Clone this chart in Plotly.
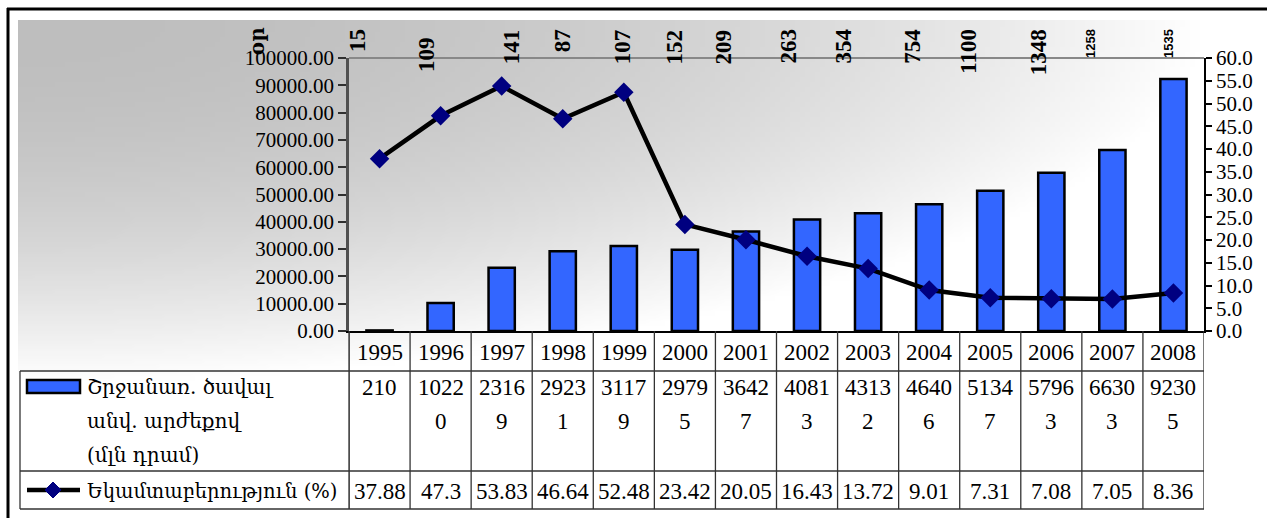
import base64
import struct
import zlib

import plotly.graph_objects as go

years = ["1995", "1996", "1997", "1998", "1999", "2000", "2001",
         "2002", "2003", "2004", "2005", "2006", "2007", "2008"]
turnover = [210, 10220, 23169, 29231, 31179, 29795, 36427,
            40813, 43132, 46406, 51347, 57963, 66303, 92305]
yield_pct = [37.88, 47.3, 53.83, 46.64, 52.48, 23.42, 20.05,
             16.43, 13.72, 9.01, 7.31, 7.08, 7.05, 8.36]
days = ["15", "109", "141", "87", "107", "152", "209",
        "263", "354", "754", "1100", "1348", "1258", "1535"]
days_title = "օր"
bar_name = ["Շրջանառ. ծավալ", "անվ. արժեքով", "(մլն դրամ)"]
line_name = "Եկամտաբերություն (%)"

# label nudges for the rotated "days" row (pixels)
day_dx = [-22, -14, 10, 0, -1, -10, -22, -19, -25, -17, -22, -12, -22, -5]
day_dy = [0, -8, 0, 0, 0, 0, 0, 0, 0, 0, 0, 0, 0, 0]
day_small = {"1258", "1535"}

W, H = 1267, 518
L, R, T, B = 349, 1204, 58, 331
SERIF = "Liberation Serif, Times New Roman, serif"
ARM = "DejaVu Serif, serif"
BLUE = "#3366FF"
NAVY = "#000080"


def px_x(x):
    return (x - L) / (R - L)


def px_y(y):
    return (B - y) / (B - T)


def gradient_png(w, h):
    # grey corner (top-left) fading to white
    rows = []
    for j in range(h):
        yy = 20 + (j + 0.5) * (H - 20) / h
        row = bytearray()
        for i in range(w):
            xx = 18 + (i + 0.5) * (W - 18) / w
            t = ((xx - 18) / 1180) ** 2 + ((yy - 20) / 360) ** 2
            row.append(int(190 + 65 * min(1.0, t)))
        rows.append(b"\x00" + bytes(row))

    def chunk(tag, data):
        out = struct.pack(">I", len(data)) + tag + data
        return out + struct.pack(">I", zlib.crc32(tag + data) & 0xFFFFFFFF)

    ihdr = struct.pack(">IIBBBBB", w, h, 8, 0, 0, 0, 0)
    png = (b"\x89PNG\r\n\x1a\n" + chunk(b"IHDR", ihdr)
           + chunk(b"IDAT", zlib.compress(b"".join(rows))) + chunk(b"IEND", b""))
    return "data:image/png;base64," + base64.b64encode(png).decode()


fig = go.Figure()
fig.add_trace(go.Bar(
    x=years, y=turnover, name=" ".join(bar_name),
    marker=dict(color=BLUE, line=dict(color="black", width=2.5)),
))
fig.add_trace(go.Scatter(
    x=years, y=yield_pct, yaxis="y2", name=line_name, mode="lines+markers",
    line=dict(color="black", width=4.5),
    marker=dict(symbol="diamond", size=15, color=NAVY),
))

tick_font = dict(family=SERIF, size=21, color="black")
fig.update_layout(
    width=W, height=H,
    margin=dict(l=L, r=W - R, t=T, b=H - B),
    paper_bgcolor="white",
    plot_bgcolor="rgba(0,0,0,0)",
    showlegend=False,
    bargap=0.57,
    xaxis=dict(type="category", range=[-0.5, 13.5], showticklabels=False,
               ticks="", showline=True, linecolor="black", linewidth=2,
               showgrid=False, zeroline=False),
    yaxis=dict(range=[0, 100000], dtick=10000, tickformat=".2f",
               ticks="outside", ticklen=8, tickwidth=1.5, tickcolor="#303030",
               showline=True, linecolor="#505050", linewidth=2.5,
               showgrid=False, zeroline=False, tickfont=tick_font),
    yaxis2=dict(overlaying="y", side="right", range=[0, 60], dtick=5,
                tickformat=".1f", ticks="outside", ticklen=6, tickwidth=1.5,
                tickcolor="black", showline=True, linecolor="black",
                linewidth=1.5, showgrid=False, zeroline=False,
                tickfont=tick_font, ticklabelstandoff=0),
    images=[dict(source=gradient_png(250, 100), xref="paper", yref="paper",
                 x=px_x(18), y=px_y(20), sizex=(W - 18) / (R - L),
                 sizey=(H - 20) / (B - T), xanchor="left", yanchor="top",
                 sizing="stretch", layer="below")],
)

shapes = []


def hline(y, x0, x1, color="#333333", width=1.3):
    shapes.append(dict(type="line", xref="paper", yref="paper",
                       x0=px_x(x0), x1=px_x(x1), y0=px_y(y), y1=px_y(y),
                       line=dict(color=color, width=width)))


def vline(x, y0, y1, color="#333333", width=1.3):
    shapes.append(dict(type="line", xref="paper", yref="paper",
                       x0=px_x(x), x1=px_x(x), y0=px_y(y0), y1=px_y(y1),
                       line=dict(color=color, width=width)))


# outer frame
hline(9, 7, W, color="black", width=3)
vline(8, 8, H, color="black", width=3)
# plot top border
hline(T, L, R, color="#888888", width=2)

# data table grid
for y in (371, 471, 509):
    hline(y, 20, R)
vline(20, 371, 509)
vline(L, B, 509)
for i in range(len(years) + 1):
    shapes.append(dict(type="line", xref="x", yref="paper",
                       x0=i - 0.5, x1=i - 0.5, y0=px_y(B), y1=px_y(509),
                       line=dict(color="#333333", width=1.3)))

# legend keys in the table
shapes.append(dict(type="rect", xref="paper", yref="paper",
                   x0=px_x(27), x1=px_x(80), y0=px_y(393), y1=px_y(380),
                   fillcolor=BLUE, line=dict(color="black", width=2.5)))
hline(490, 27, 80, color="black", width=4.5)
cx, cy, d = 53, 490, 8
shapes.append(dict(
    type="path", xref="paper", yref="paper", fillcolor=NAVY,
    line=dict(color=NAVY, width=1),
    path=(f"M{px_x(cx - d)},{px_y(cy)} L{px_x(cx)},{px_y(cy - d)} "
          f"L{px_x(cx + d)},{px_y(cy)} L{px_x(cx)},{px_y(cy + d)} Z"),
))
fig.update_layout(shapes=shapes)

ann = []
cell_font = dict(family=SERIF, size=23, color="black")
for i, yr in enumerate(years):
    ann.append(dict(x=i, xref="x", y=px_y(352), yref="paper", text=yr,
                    showarrow=False, font=cell_font, yanchor="middle"))
    s = str(turnover[i])
    for k, part in enumerate([s[:4], s[4:]]):
        if part:
            ann.append(dict(x=i, xref="x", y=px_y(387 + 34 * k), yref="paper",
                            text=part, showarrow=False, font=cell_font,
                            yanchor="middle"))
    ann.append(dict(x=i, xref="x", y=px_y(491), yref="paper",
                    text=f"{yield_pct[i]:g}", showarrow=False, font=cell_font,
                    yanchor="middle"))
    small = days[i] in day_small
    ann.append(dict(
        x=i, xref="x", xshift=day_dx[i], y=px_y(27), yref="paper",
        yshift=day_dy[i], text=days[i], showarrow=False, textangle=-90,
        xanchor="center", yanchor="top",
        font=dict(family="Liberation Sans, Arial, sans-serif" if small else SERIF,
                  size=13 if small else 23, color="black", weight="bold"),
    ))

ann.append(dict(x=px_x(257), xref="paper", y=px_y(25), yref="paper",
                text=days_title, showarrow=False, textangle=-90,
                xanchor="center", yanchor="top",
                font=dict(family=ARM, size=20, color="black", weight="bold")))
for k, line in enumerate(bar_name):
    ann.append(dict(x=px_x(85), xref="paper", y=px_y(387 + 34 * k),
                    yref="paper", text=line, showarrow=False, xanchor="left",
                    yanchor="middle",
                    font=dict(family=ARM, size=20, color="black")))
ann.append(dict(x=px_x(85), xref="paper", y=px_y(491), yref="paper",
                text=line_name, showarrow=False, xanchor="left",
                yanchor="middle", font=dict(family=ARM, size=19.5, color="black")))
fig.update_layout(annotations=ann)

fig.write_html("out.html", config={"displayModeBar": False},
               post_script="document.body.style.margin = '0';")
